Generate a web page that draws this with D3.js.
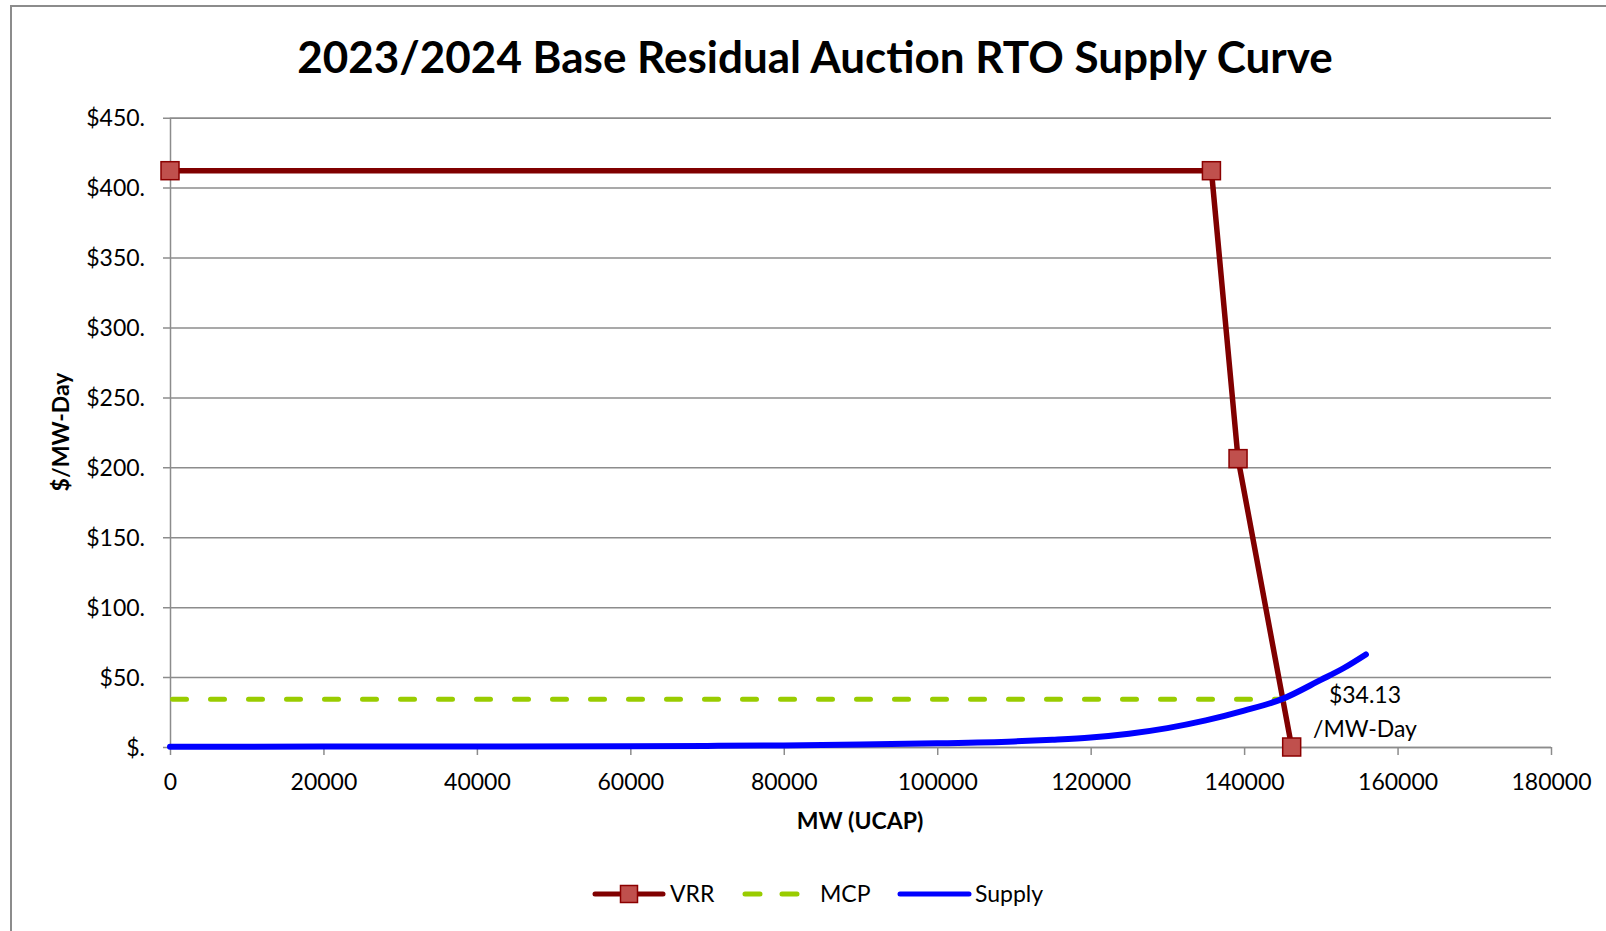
<!DOCTYPE html>
<html>
<head>
<meta charset="utf-8">
<script src="https://cdn.jsdelivr.net/npm/d3@7"></script>
<style>
    body { margin: 0; background: #fff; }
    svg { display: block; font-family: Lato, "Noto Sans", sans-serif; }
</style>
</head>
<body>
<div id="chart"></div>
<script>
// Chart data.
const vrrMW = [0, 135740, 139210, 146200];
const vrrPrice = [412.1, 412.1, 206.2, 0];

const mcpMW = [0, 144870];
const mcpPrice = [34.13, 34.13];

const supplyMW = [0, 20000, 40000, 60000, 70000, 80000, 90000, 100000, 110000, 115000, 120000, 125000, 130000, 135000, 140000, 145000, 150000, 153000, 155870];
const supplyPrice = [0.2, 0.3, 0.4, 0.6, 0.8, 1.1, 1.7, 2.6, 4.0, 5.2, 6.8, 9.5, 13.5, 19.0, 26.0, 34.4, 48.0, 56.5, 66.2];

const xTicks = [0, 20000, 40000, 60000, 80000, 100000, 120000, 140000, 160000, 180000];
const yTicks = [0, 50, 100, 150, 200, 250, 300, 350, 400, 450];

const titleText = '2023/2024 Base Residual Auction RTO Supply Curve';
const xTitle = 'MW (UCAP)';
const yTitle = '$/MW-Day';
const seriesNames = ['VRR', 'MCP', 'Supply'];
const mcpLabel = ['$34.13', '/MW-Day'];

// Colours.
const vrrColor = '#800000';
const markerFill = '#C0504D';
const markerStroke = '#8B0000';
const mcpColor = '#99CC00';
const supplyColor = '#0000FF';
const gridColor = '#8c8c8c';

function renderChart() {
    const width = 1606;
    const height = 931;

    const svg = d3.select('#chart').append('svg')
        .attr('width', width)
        .attr('height', height);

    // Outer frame of the chart area (runs off the right and bottom edges).
    svg.append('path')
        .attr('d', `M11,${height + 5} L11,6 L${width + 5},6`)
        .attr('fill', 'none')
        .attr('stroke', gridColor)
        .attr('stroke-width', 2);

    const x = d3.scaleLinear().domain([0, 180000]).range([170, 1551]);
    const y = d3.scaleLinear().domain([0, 450]).range([747, 117.7]);

    // Title.
    svg.append('text')
        .attr('x', 815)
        .attr('y', 73)
        .attr('text-anchor', 'middle')
        .attr('font-size', 44)
        .attr('font-weight', 'bold')
        .text(titleText);

    // Horizontal gridlines with the y axis ticks.
    const yAxis = d3.axisLeft(y)
        .tickValues(yTicks)
        .tickSize(-(1551 - 170))
        .tickPadding(18)
        .tickFormat(d => d === 0 ? '$.' : `$${d}.`);

    const gy = svg.append('g')
        .attr('transform', 'translate(170,0)')
        .call(yAxis);
    gy.select('.domain').attr('stroke', gridColor).attr('stroke-width', 1.5);
    gy.selectAll('.tick line')
        .attr('x1', -7)
        .attr('stroke', gridColor)
        .attr('stroke-width', 1.5);
    gy.selectAll('.tick text')
        .attr('font-size', 23)
        .attr('font-family', 'Lato, sans-serif')
        .attr('fill', '#000')
        .attr('x', -25)
        .attr('dy', '0.35em');

    // X axis ticks below the baseline.
    const xAxis = d3.axisBottom(x)
        .tickValues(xTicks)
        .tickSize(8)
        .tickPadding(19)
        .tickFormat(d => String(d));

    const gx = svg.append('g')
        .attr('transform', `translate(0,${y(0)})`)
        .call(xAxis);
    gx.select('.domain').remove();
    gx.selectAll('.tick line')
        .attr('stroke', gridColor)
        .attr('stroke-width', 1.5);
    gx.selectAll('.tick text')
        .attr('font-size', 23)
        .attr('font-family', 'Lato, sans-serif')
        .attr('fill', '#000');

    // Axis titles.
    svg.append('text')
        .attr('x', 860)
        .attr('y', 829)
        .attr('text-anchor', 'middle')
        .attr('font-size', 23)
        .attr('font-weight', 'bold')
        .text(xTitle);

    svg.append('text')
        .attr('transform', 'translate(69,432) rotate(-90)')
        .attr('text-anchor', 'middle')
        .attr('font-size', 23)
        .attr('font-weight', 'bold')
        .text(yTitle);

    const line = d3.line()
        .x(d => x(d[0]))
        .y(d => y(d[1]));

    const vrrData = vrrMW.map((v, i) => [v, vrrPrice[i]]);
    const mcpData = mcpMW.map((v, i) => [v, mcpPrice[i]]);
    const supplyData = supplyMW.map((v, i) => [v, supplyPrice[i]]);

    // VRR curve and its square markers.
    svg.append('path')
        .datum(vrrData)
        .attr('d', line)
        .attr('fill', 'none')
        .attr('stroke', vrrColor)
        .attr('stroke-width', 5.5);

    svg.selectAll('.vrr-marker')
        .data(vrrData)
        .enter()
        .append('rect')
        .attr('class', 'vrr-marker')
        .attr('x', d => x(d[0]) - 9)
        .attr('y', d => y(d[1]) - 9)
        .attr('width', 18)
        .attr('height', 18)
        .attr('fill', markerFill)
        .attr('stroke', markerStroke)
        .attr('stroke-width', 1.5);

    // Market clearing price, dashed.
    svg.append('path')
        .datum(mcpData)
        .attr('d', line)
        .attr('fill', 'none')
        .attr('stroke', mcpColor)
        .attr('stroke-width', 5)
        .attr('stroke-linecap', 'round')
        .attr('stroke-dasharray', '14,24')
        .attr('transform', 'translate(2.5,0)');

    // Supply curve, smoothed.
    svg.append('path')
        .datum(supplyData)
        .attr('d', line.curve(d3.curveMonotoneX))
        .attr('fill', 'none')
        .attr('stroke', supplyColor)
        .attr('stroke-width', 6)
        .attr('stroke-linecap', 'round');

    // Price label next to the clearing point.
    const label = svg.append('text')
        .attr('x', 1365)
        .attr('text-anchor', 'middle')
        .attr('font-size', 23)
        .attr('fill', '#000');
    label.append('tspan').attr('x', 1365).attr('y', 703).text(mcpLabel[0]);
    label.append('tspan').attr('x', 1365).attr('y', 737).text(mcpLabel[1]);

    // Legend.
    const ly = 894;
    const legend = svg.append('g');

    legend.append('line')
        .attr('x1', 595).attr('x2', 663)
        .attr('y1', ly).attr('y2', ly)
        .attr('stroke', vrrColor)
        .attr('stroke-width', 5)
        .attr('stroke-linecap', 'round');
    legend.append('rect')
        .attr('x', 629 - 8.5).attr('y', ly - 8.5)
        .attr('width', 17).attr('height', 17)
        .attr('fill', markerFill)
        .attr('stroke', markerStroke)
        .attr('stroke-width', 1.5);
    legend.append('text')
        .attr('x', 670).attr('y', ly).attr('dy', '0.35em')
        .attr('font-size', 23)
        .text(seriesNames[0]);

    legend.append('line')
        .attr('x1', 745).attr('x2', 800)
        .attr('y1', ly).attr('y2', ly)
        .attr('stroke', mcpColor)
        .attr('stroke-width', 5)
        .attr('stroke-linecap', 'round')
        .attr('stroke-dasharray', '15,22');
    legend.append('text')
        .attr('x', 820).attr('y', ly).attr('dy', '0.35em')
        .attr('font-size', 23)
        .text(seriesNames[1]);

    legend.append('line')
        .attr('x1', 900).attr('x2', 969)
        .attr('y1', ly).attr('y2', ly)
        .attr('stroke', supplyColor)
        .attr('stroke-width', 5)
        .attr('stroke-linecap', 'round');
    legend.append('text')
        .attr('x', 975).attr('y', ly).attr('dy', '0.35em')
        .attr('font-size', 23)
        .text(seriesNames[2]);
}

renderChart();
</script>
</body>
</html>
